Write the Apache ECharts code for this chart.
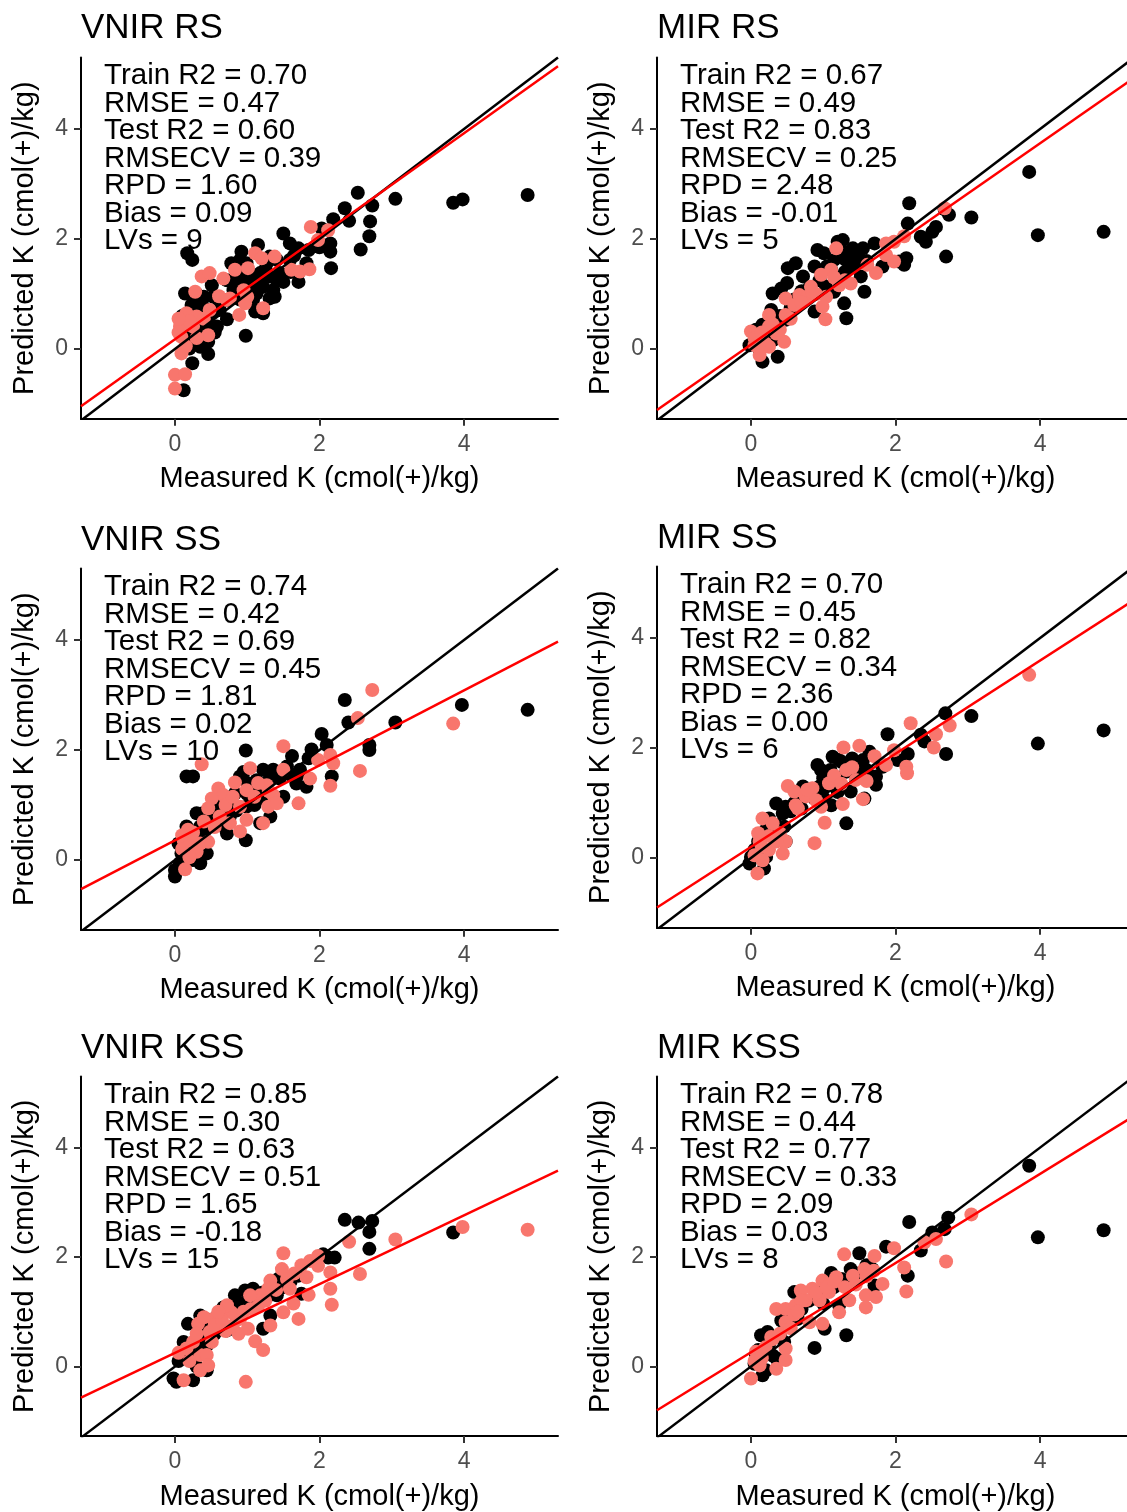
<!DOCTYPE html>
<html>
<head>
<meta charset="utf-8">
<script src="https://cdn.jsdelivr.net/npm/echarts@6/dist/echarts.min.js"></script>
<style>
  html, body { margin: 0; padding: 0; background: #ffffff; }
  #chart { width: 1127px; height: 1512px; }
</style>
</head>
<body>
<div id="chart"></div>
<script>
// ---- Panel labels and model statistics ----
const panelTitles = ['VNIR RS', 'MIR RS', 'VNIR SS', 'MIR SS', 'VNIR KSS', 'MIR KSS'];
const trainR2 = ['0.70', '0.67', '0.74', '0.70', '0.85', '0.78'];
const rmse    = ['0.47', '0.49', '0.42', '0.45', '0.30', '0.44'];
const testR2  = ['0.60', '0.83', '0.69', '0.82', '0.63', '0.77'];
const rmsecv  = ['0.39', '0.25', '0.45', '0.34', '0.51', '0.33'];
const rpd     = ['1.60', '2.48', '1.81', '2.36', '1.65', '2.09'];
const bias    = ['0.09', '-0.01', '0.02', '0.00', '-0.18', '0.03'];
const lvs     = ['9', '5', '10', '6', '15', '8'];

// ---- Axes ----
const xTicks = [0, 2, 4];
const yTicks = [0, 2, 4];
const xRangeLeft  = [-1.3, 5.3];
const xRangeRight = [-1.3, 5.2];   // right-hand column is cut at the page edge
const yRange = [-1.27, 5.3];
const xTitle = 'Measured K (cmol(+)/kg)';
const yTitle = 'Predicted K (cmol(+)/kg)';

// 1:1 reference line
const oneToOne = [[-1.3, -1.3], [5.3, 5.3]];

// Fitted regression lines (end points)
const fitVnirRs  = [[-1.3, -1.04], [5.3, 5.14]];
const fitMirRs   = [[-1.3, -1.11], [5.3, 4.93]];
const fitVnirSs  = [[-1.3, -0.53], [5.3, 3.97]];
const fitMirSs   = [[-1.3, -0.90], [5.3, 4.69]];
const fitVnirKss = [[-1.3, -0.57], [5.3, 3.58]];
const fitMirKss  = [[-1.3, -0.80], [5.3, 4.58]];

// ---- Measured vs predicted: training (black) and test (red) ----
const vnirRsTrain = [
  [2.53,2.84],[3.05,2.73],[3.85,2.66],[3.98,2.72],[4.88,2.80],[2.35,2.56],[2.73,2.61],[2.41,2.33],
  [2.70,2.32],[2.69,2.05],[2.57,1.81],[2.16,1.47],[2.15,1.92],[2.15,1.77],[2.19,2.36],[2.03,2.19],
  [1.50,2.10],[1.59,1.92],[1.71,1.83],[1.15,1.89],[0.92,1.77],[0.17,1.74],[0.24,1.62],[1.82,1.56],
  [1.71,1.22],[1.50,1.22],[1.31,1.32],[1.38,0.95],[1.31,0.92],[1.18,1.38],[1.04,1.07],[0.85,1.25],
  [0.51,1.16],[0.14,1.01],[0.23,0.80],[0.25,0.68],[0.72,0.54],[0.98,0.24],[1.11,0.68],[1.22,0.65],
  [0.44,0.47],[0.46,0.13],[0.20,0.01],[0.46,-0.09],[0.24,-0.26],[0.12,-0.75],[0.85,1.50],[0.99,1.56],
  [1.27,1.56],[1.41,1.62],[1.59,1.62],[0.95,1.13],[1.08,0.89],[0.72,0.89],[0.35,0.28],[0.39,0.77],
  [0.81,1.07],[1.22,1.13],[1.41,1.25],[1.13,1.01],[0.35,0.53],[0.58,0.41],[0.16,0.22],[0.25,0.16],
  [1.00,1.30],[1.10,1.20],[0.60,0.90],[0.30,0.40],[0.90,0.90],[1.25,1.45],[1.60,1.40],[0.50,0.65],
  [0.78,1.56],[0.90,1.62],[1.31,1.68],[1.18,1.19],[1.36,1.07],[1.45,1.38],[1.08,1.32],[0.95,1.32],
  [0.72,1.25],[0.53,0.95],[0.30,0.89],[0.44,0.65],[0.62,0.71],[0.21,0.41],[0.35,0.04],[0.10,0.60],
  [0.30,1.00],[0.40,0.95],[0.55,0.30],[1.65,1.70],[1.85,1.80],[2.00,1.85]
];
const vnirRsTest = [
  [1.88,2.22],[2.12,2.16],[1.98,1.98],[1.11,1.74],[1.20,1.65],[1.38,1.68],[1.01,1.47],[0.83,1.44],
  [0.67,1.28],[0.37,1.32],[0.48,1.38],[0.28,1.04],[0.61,0.96],[0.76,0.92],[0.95,1.07],[1.00,0.95],
  [0.97,0.83],[0.89,0.62],[1.22,0.74],[1.61,1.44],[1.73,1.41],[1.86,1.45],[0.14,0.50],[0.30,0.59],
  [0.48,0.71],[0.07,0.41],[0.25,0.41],[0.46,0.25],[0.09,-0.08],[0.00,-0.47],[0.14,-0.46],[0.00,-0.72],
  [0.72,0.89],[0.09,0.22],[0.16,0.65],[0.05,0.30],[0.10,0.45],[0.20,0.50],[0.05,0.55],[0.30,0.20],
  [0.15,0.05],[0.40,0.55]
];

const mirRsTrain = [
  [3.85,3.22],[2.19,2.65],[2.68,2.54],[2.74,2.44],[3.05,2.39],[2.17,2.28],[3.97,2.07],[4.88,2.13],
  [2.56,2.22],[2.51,2.13],[2.35,2.04],[2.42,1.95],[2.70,1.68],[2.15,1.65],[2.12,1.53],[2.05,1.59],
  [1.71,1.92],[1.27,1.98],[1.20,1.95],[0.92,1.80],[1.01,1.74],[1.41,1.83],[1.55,1.83],[1.48,1.68],
  [1.31,1.62],[1.15,1.62],[0.51,1.47],[0.62,1.56],[0.88,1.50],[0.72,1.32],[1.82,1.50],[1.52,1.32],
  [1.57,1.04],[1.29,0.83],[1.32,0.56],[0.88,0.68],[1.15,1.04],[0.42,1.10],[0.30,1.01],[0.28,0.71],
  [0.48,0.53],[0.16,0.44],[0.07,0.35],[0.16,-0.23],[0.37,-0.14],[-0.02,0.07],[0.30,0.16],[0.12,-0.02],
  [1.11,1.44],[1.04,1.13],[0.05,0.15],[0.15,0.10],[0.20,0.30],[0.10,0.25],[0.25,0.20],[0.35,0.40],
  [0.40,0.60],[0.55,0.75],[0.60,0.90],[0.70,1.05],[0.80,1.10],[0.95,1.25],[1.05,1.50],[1.20,1.30],
  [1.30,1.40],[1.40,1.50],[1.45,1.60],[1.60,1.60],[1.35,1.75],[1.25,1.80],[0.50,1.20]
];
const mirRsTest = [
  [2.68,2.56],[2.12,2.05],[1.98,1.95],[1.87,1.92],[1.87,1.71],[1.98,1.59],[1.73,1.38],[1.61,1.53],
  [1.18,1.83],[1.11,1.44],[0.97,1.35],[1.38,1.19],[0.83,1.13],[0.67,0.98],[0.78,0.95],[0.48,0.92],
  [1.04,0.95],[0.99,0.77],[1.03,0.54],[0.25,0.62],[0.48,0.62],[0.00,0.32],[0.25,0.41],[0.46,0.13],
  [0.14,0.22],[0.05,0.07],[0.25,0.04],[0.12,-0.11],[0.35,0.28],[0.85,1.04],[1.22,1.16],[0.05,0.20],
  [0.15,0.30],[0.30,0.45],[0.20,0.10],[0.10,0.05],[0.60,0.80],[0.70,0.85],[0.90,1.00],[1.15,1.30],
  [1.30,1.25],[0.55,0.55],[0.40,0.35]
];

const vnirSsTrain = [
  [2.35,2.91],[2.40,2.50],[3.05,2.50],[3.97,2.82],[4.88,2.73],[2.03,2.29],[1.89,2.01],[2.10,2.09],
  [2.69,2.09],[2.69,2.00],[2.17,1.52],[1.62,1.89],[0.98,1.99],[0.16,1.52],[0.25,1.52],[1.22,1.64],
  [1.36,1.64],[1.45,1.48],[1.73,1.64],[1.68,1.39],[1.82,1.33],[1.50,1.15],[1.32,0.79],[1.18,0.67],
  [0.90,1.52],[0.83,1.21],[0.72,0.48],[0.98,0.36],[0.39,0.85],[0.30,0.85],[0.16,0.61],[0.35,0.61],
  [0.25,0.00],[0.09,0.12],[0.00,-0.18],[0.00,-0.30],[0.35,-0.06],[0.44,0.12],[0.53,0.67],[0.62,0.97],
  [1.08,1.21],[0.99,0.97],[1.13,1.45],[0.21,0.24],[0.07,-0.06],[0.67,0.61],[0.76,0.79],[0.10,0.00],
  [0.15,0.20],[0.20,0.45],[0.30,0.30],[0.05,0.30],[0.40,0.50],[0.50,0.80],[0.60,1.10],[0.75,1.00],
  [0.85,0.90],[1.00,1.20],[1.10,1.00],[1.20,1.30],[1.30,1.45],[1.40,1.60],[1.55,1.70],[1.60,1.55],
  [1.25,1.10],[1.00,1.40],[0.95,1.60],[1.70,1.55],[1.85,1.85]
];
const vnirSsTest = [
  [2.73,3.09],[2.53,2.58],[3.85,2.48],[1.50,2.07],[2.15,1.91],[2.19,1.76],[1.98,1.82],[2.56,1.62],
  [2.15,1.35],[1.87,1.48],[1.71,1.03],[0.37,1.74],[1.04,1.67],[0.83,1.41],[0.60,1.30],[0.67,1.18],
  [0.51,1.12],[0.46,0.94],[0.99,1.27],[1.27,1.36],[1.50,1.64],[1.36,1.18],[1.29,0.97],[1.22,0.67],
  [0.90,0.97],[0.99,0.73],[0.90,0.52],[0.62,0.79],[0.18,0.55],[0.12,0.36],[0.35,0.30],[0.46,0.33],
  [0.14,-0.17],[0.76,0.67],[1.41,1.03],[0.10,0.20],[0.20,0.35],[0.25,0.50],[0.10,0.45],[0.30,0.15],
  [0.40,0.70],[0.55,0.60],[0.70,1.00],[0.80,1.15],[1.10,1.15],[1.15,1.40],[1.30,1.25],[0.20,0.05]
];

const mirSsTrain = [
  [2.69,2.63],[3.05,2.58],[3.97,2.08],[4.88,2.32],[1.89,2.25],[2.35,2.24],[2.40,2.12],[2.70,1.89],
  [2.17,1.89],[2.03,1.78],[1.64,1.93],[1.55,1.78],[1.40,1.81],[1.13,1.84],[0.92,1.69],[0.97,1.60],
  [1.22,1.78],[1.73,1.48],[1.73,1.33],[1.38,1.21],[1.32,1.57],[1.20,1.45],[1.57,1.08],[1.11,0.96],
  [1.32,0.63],[0.88,1.08],[0.72,1.30],[0.35,0.99],[0.48,0.93],[0.44,0.81],[0.25,0.72],[0.46,0.57],
  [0.14,0.39],[0.48,0.30],[0.00,0.02],[-0.02,-0.10],[0.18,-0.19],[0.21,0.02],[1.04,1.30],[1.82,1.66],
  [0.05,0.15],[0.10,0.30],[0.20,0.50],[0.30,0.45],[0.35,0.60],[0.55,0.85],[0.60,1.00],[0.65,1.10],
  [0.80,1.15],[0.95,1.30],[1.00,1.45],[1.10,1.60],[1.25,1.75],[1.45,1.65],[1.50,1.50],[1.60,1.60],
  [1.20,1.20],[0.70,0.90],[1.00,1.10]
];
const mirSsTest = [
  [3.85,3.33],[2.21,2.45],[2.75,2.41],[2.56,2.25],[2.53,2.01],[1.98,1.96],[1.87,1.69],[2.15,1.66],
  [2.16,1.54],[1.50,2.04],[1.28,2.01],[1.71,1.85],[1.32,1.60],[1.45,1.42],[1.55,1.07],[1.27,0.98],
  [1.02,0.64],[0.88,0.27],[1.08,1.36],[0.85,1.27],[0.76,1.12],[0.97,0.93],[0.62,0.96],[0.51,1.31],
  [0.60,1.21],[0.16,0.72],[0.30,0.63],[0.12,0.30],[0.48,0.30],[0.25,0.15],[0.44,0.08],[0.16,-0.04],
  [0.09,-0.28],[0.78,1.24],[0.05,0.05],[0.15,0.20],[0.25,0.40],[0.35,0.30],[0.40,0.45],[0.10,0.45],
  [0.65,0.90],[0.90,1.05],[1.15,1.50],[1.25,1.35],[1.40,1.65],[1.60,1.40]
];

const vnirKssTrain = [
  [2.35,2.68],[2.54,2.63],[2.73,2.66],[2.69,2.46],[2.69,2.15],[3.85,2.45],[2.05,2.05],[2.12,1.99],
  [2.21,1.99],[1.43,1.60],[1.41,1.30],[1.75,1.33],[1.71,1.66],[1.32,0.93],[1.22,0.69],[1.08,1.42],
  [0.97,1.39],[0.83,1.30],[0.67,1.08],[0.90,1.05],[1.04,1.18],[0.35,0.93],[0.18,0.78],[0.12,0.45],
  [0.32,0.57],[0.72,0.66],[0.25,0.08],[-0.02,-0.22],[0.02,-0.28],[0.25,-0.25],[0.38,0.33],[0.44,-0.07],
  [0.21,0.27],[0.05,0.10],[0.15,0.30],[0.25,0.40],[0.40,0.70],[0.50,0.85],[0.60,0.95],[0.75,1.10],
  [0.85,1.20],[0.95,1.15],[1.10,1.25],[1.20,1.35],[1.30,1.30],[1.50,1.45],[1.60,1.55],[0.55,0.60],
  [0.30,0.00],[0.45,0.40]
];
const vnirKssTest = [
  [3.98,2.55],[4.88,2.50],[3.05,2.32],[2.41,2.28],[1.50,2.07],[1.87,1.93],[1.98,2.02],[1.98,1.84],
  [1.48,1.78],[2.15,1.72],[2.56,1.69],[1.82,1.63],[2.15,1.42],[2.17,1.13],[1.85,1.31],[1.32,1.57],
  [1.29,1.42],[1.18,1.30],[1.59,1.42],[1.64,1.15],[1.50,0.99],[1.71,0.87],[1.32,0.75],[1.11,0.46],
  [1.22,0.30],[0.98,-0.28],[0.90,0.87],[0.88,0.60],[1.01,0.69],[0.78,0.99],[0.53,0.87],[0.32,0.78],
  [0.48,0.63],[0.51,0.45],[0.16,0.33],[0.35,0.21],[0.44,0.21],[0.35,-0.07],[0.46,0.02],[0.12,-0.25],
  [0.72,1.12],[1.04,1.30],[0.05,0.25],[0.20,0.10],[0.25,0.45],[0.30,0.60],[0.55,0.75],[0.65,0.85],
  [0.70,0.65],[0.80,0.75],[0.95,1.00],[1.05,1.05],[1.15,1.10],[1.25,1.20],[1.40,1.40],[1.55,1.60],
  [1.65,1.70],[1.75,1.85],[0.60,1.00],[0.40,0.90]
];

const mirKssTrain = [
  [3.85,3.67],[2.19,2.64],[2.73,2.72],[2.68,2.51],[2.51,2.45],[3.97,2.36],[4.88,2.49],[2.35,2.12],
  [1.87,2.19],[1.50,2.07],[2.17,1.66],[1.68,1.78],[1.71,1.48],[1.38,1.78],[1.11,1.71],[0.60,1.36],
  [0.42,0.84],[0.65,0.87],[1.32,0.57],[0.88,0.34],[1.02,0.69],[0.14,0.57],[0.23,0.63],[0.46,0.45],
  [0.35,0.15],[0.16,-0.16],[0.21,-0.07],[0.07,0.21],[1.22,1.12],[0.90,1.24],[0.05,0.05],[0.10,0.30],
  [0.25,0.40],[0.30,0.20],[0.40,0.55],[0.50,0.75],[0.55,0.95],[0.70,1.05],[0.80,1.20],[0.95,1.35],
  [1.05,1.50],[1.15,1.45],[1.25,1.60],[1.35,1.55],[1.45,1.70],[1.60,1.85],[1.00,1.15]
];
const mirKssTest = [
  [3.05,2.78],[2.56,2.33],[2.40,2.27],[2.70,1.92],[1.98,2.16],[1.71,2.02],[1.29,2.05],[2.12,1.81],
  [1.82,1.51],[2.15,1.37],[1.57,1.78],[1.41,1.66],[1.18,1.63],[0.99,1.57],[0.85,1.42],[0.69,1.39],
  [0.76,1.21],[1.08,1.36],[0.95,1.21],[1.22,0.99],[1.59,1.30],[1.73,1.27],[1.59,1.08],[1.36,1.21],
  [0.35,1.05],[0.48,1.05],[0.62,1.12],[0.48,0.81],[0.99,0.78],[0.81,0.81],[0.28,0.54],[0.48,0.33],
  [0.48,0.12],[0.35,-0.04],[0.00,-0.22],[0.12,0.02],[0.07,0.27],[0.05,0.10],[0.15,0.15],[0.20,0.35],
  [0.30,0.50],[0.40,0.60],[0.55,0.70],[0.60,0.95],[0.70,1.20],[0.90,1.35],[1.05,1.45],[1.15,1.55],
  [1.30,1.45],[1.45,1.50],[1.60,1.65],[1.70,1.75],[0.65,1.00]
];

const trainSets = [vnirRsTrain, mirRsTrain, vnirSsTrain, mirSsTrain, vnirKssTrain, mirKssTrain];
const testSets  = [vnirRsTest, mirRsTest, vnirSsTest, mirSsTest, vnirKssTest, mirKssTest];
const fitLines  = [fitVnirRs, fitMirRs, fitVnirSs, fitMirSs, fitVnirKss, fitMirKss];

// ---- Layout ----
const FONT = '"Liberation Sans", Arial, Helvetica, sans-serif';
const UNIT_X = 72.27;            // pixels per unit on the x axis
const UNIT_Y = 55;               // pixels per unit on the y axis
const PLOT_H = (yRange[1] - yRange[0]) * UNIT_Y;
const panelLeft = [81, 657, 81, 657, 81, 657];
const zeroY     = [349, 349, 860, 858, 1368, 1368];   // pixel row of y = 0
const titleTop  = [11, 11, 523, 521, 1031, 1031];
const statsTop  = [61, 61, 572, 570, 1080, 1080];

const grid = [], xAxis = [], yAxis = [], series = [], title = [], graphic = [];

for (let i = 0; i < 6; i++) {
  const rightColumn = (i % 2 === 1);
  const xRange = rightColumn ? xRangeRight : xRangeLeft;
  const top = zeroY[i] - yRange[1] * UNIT_Y;
  grid.push({
    left: panelLeft[i], top: top,
    width: (xRange[1] - xRange[0]) * UNIT_X, height: PLOT_H,
    containLabel: false
  });

  const axisLine = { onZero: false, lineStyle: { color: '#000000', width: 2 } };
  const axisTickStyle = { color: '#333333', width: 2 };

  xAxis.push({
    type: 'value', gridIndex: i, min: xRange[0], max: xRange[1],
    axisLine: axisLine,
    axisTick: { show: true, length: 7, lineStyle: axisTickStyle, customValues: xTicks },
    axisLabel: { color: '#4d4d4d', fontSize: 23, fontFamily: FONT, margin: 14, customValues: xTicks },
    splitLine: { show: false },
    name: xTitle, nameLocation: 'middle', nameGap: 46,
    nameTextStyle: {
      color: '#000000', fontSize: 29, fontFamily: FONT,
      // keep the title centred on the full panel width, not the clipped part
      padding: rightColumn ? [0, 0, 0, 7] : 0
    }
  });
  yAxis.push({
    type: 'value', gridIndex: i, min: yRange[0], max: yRange[1],
    axisLine: axisLine,
    axisTick: { show: true, length: 7, lineStyle: axisTickStyle, customValues: yTicks },
    axisLabel: { color: '#4d4d4d', fontSize: 23, fontFamily: FONT, margin: 13, customValues: yTicks },
    splitLine: { show: false },
    name: yTitle, nameLocation: 'middle', nameGap: 42,
    nameTextStyle: { color: '#000000', fontSize: 29, fontFamily: FONT }
  });

  title.push({
    text: panelTitles[i], left: panelLeft[i], top: titleTop[i], padding: 0,
    textStyle: { color: '#000000', fontSize: 35, fontWeight: 'normal', fontFamily: FONT }
  });

  series.push({
    type: 'scatter', xAxisIndex: i, yAxisIndex: i, data: trainSets[i],
    symbolSize: 14, itemStyle: { color: '#000000', opacity: 1 }, z: 2
  });
  series.push({
    type: 'scatter', xAxisIndex: i, yAxisIndex: i, data: testSets[i],
    symbolSize: 14, itemStyle: { color: '#F8766D', opacity: 1 }, z: 3
  });
  series.push({
    type: 'line', xAxisIndex: i, yAxisIndex: i, data: oneToOne,
    showSymbol: false, lineStyle: { color: '#000000', width: 2.5 }, z: 4
  });
  series.push({
    type: 'line', xAxisIndex: i, yAxisIndex: i, data: fitLines[i],
    showSymbol: false, lineStyle: { color: '#FF0000', width: 2.5 }, z: 5
  });

  const statsLines = [
    'Train R2 = ' + trainR2[i],
    'RMSE = ' + rmse[i],
    'Test R2 = ' + testR2[i],
    'RMSECV = ' + rmsecv[i],
    'RPD = ' + rpd[i],
    'Bias = ' + bias[i],
    'LVs = ' + lvs[i]
  ];
  graphic.push({
    type: 'text', left: panelLeft[i] + 23, top: statsTop[i], z: 10,
    style: {
      text: statsLines.join('\n'), fill: '#000000',
      font: '29.5px ' + FONT, lineHeight: 27.5
    }
  });
}

const chart = echarts.init(document.getElementById('chart'), null, { renderer: 'canvas' });
chart.setOption({
  backgroundColor: '#ffffff',
  animation: false,
  title: title,
  grid: grid,
  xAxis: xAxis,
  yAxis: yAxis,
  series: series,
  graphic: graphic
});
</script>
</body>
</html>
